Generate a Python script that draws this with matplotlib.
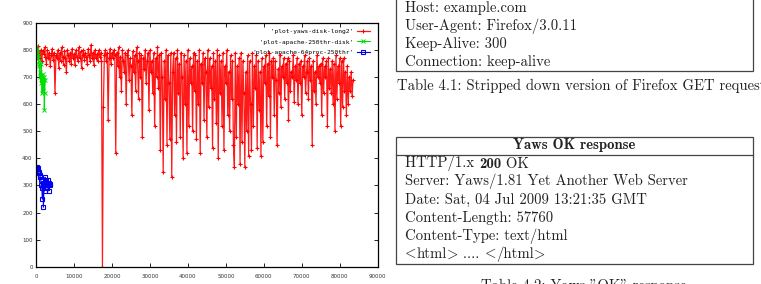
"""
Yaws vs Apache throughput plot with the two HTTP tables next to it
"""

import numpy as np
import matplotlib.pyplot as plt
from matplotlib.patches import Rectangle

# requests/sec samples, one sample every *_step requests
red_step = 250
red = [805, 780, 815, 790, 770, 800, 760, 795, 785, 810,
       775, 750, 800, 770, 790, 740, 780, 805, 765, 790,
       640, 780, 770, 800, 735, 790, 760, 810, 775, 745,
       795, 770, 720, 800, 780, 760, 790, 750, 805, 770,
       785, 745, 800, 775, 760, 810, 770, 795, 735, 780,
       800, 765, 790, 775, 750, 805, 780, 760, 820, 770,
       790, 745, 800, 770, 785, 760, 800, 775, 790, 760,
       0,
       590, 780, 800, 760, 790, 540, 770, 805, 750, 790, 770, 800,
       780, 420, 790, 740, 810, 700, 775, 650, 800, 760, 720, 790,
       600, 780, 800, 690, 770, 740, 560, 795, 720, 780, 650, 810,
       760, 620, 790, 700, 780, 480, 770, 730, 800, 680, 760, 790,
       580, 800, 720, 760, 640, 790, 520, 770, 700, 810, 660, 780,
       430, 790, 700, 350, 760, 620, 800, 450, 780, 680, 470, 790,
       330, 720, 790, 560, 770, 460, 800, 640, 750, 480, 790, 700,
       400, 780, 600, 760, 420, 800, 520, 770, 680, 740, 500, 790,
       650, 780, 470, 760, 600, 800, 420, 750, 680, 790, 540, 770,
       720, 480, 800, 590, 770, 660, 740, 440, 790, 620, 760, 530,
       800, 400, 780, 640, 760, 520, 790, 430, 740, 680, 800, 560,
       720, 500, 780, 620, 760, 450, 370, 790, 480, 740, 600, 770,
       380, 790, 460, 760, 640, 370, 720, 500, 780, 410, 760, 600,
       430, 790, 520, 740, 660, 780, 440, 760, 580, 720, 410, 770,
       460, 740, 680, 780, 520, 750, 630, 790, 480, 760, 700, 770,
       560, 760, 690, 450, 730, 640, 780, 590, 740, 700, 770, 620,
       750, 680, 770, 540, 760, 650, 720, 700, 780, 610, 740, 690,
       770, 600, 750, 680, 760, 560, 740, 700, 780, 640, 720, 760,
       620, 770, 690, 740, 450, 760, 650, 720, 600, 780, 700, 740,
       680, 750, 560, 770, 640, 740, 700, 760, 520, 770, 660, 730,
       640, 760, 600, 750, 500, 780, 620, 740, 680, 770, 520, 760,
       590, 770, 650, 720, 560, 740, 600, 700, 650, 720, 630, 690]

green_step = 115
green = [810, 800, 790, 805, 770, 780, 760, 750, 740, 700, 720,
         680, 750, 700, 640, 710, 690, 650, 700, 580, 640, 690]

blue_step = 140
blue = [365, 370, 360, 365, 355, 350, 345, 340, 330, 320,
        300, 290, 250, 310, 220, 300, 280, 330, 320, 310,
        300, 290, 320, 300, 280, 310, 305, 300]

series_labels = ["'plot-yaws-disk-long2'",
                 "'plot-apache-250thr-disk'",
                 "'plot-apache-64proc-250thr'"]
xticks = list(range(0, 90001, 10000))
yticks = list(range(0, 901, 100))

get_lines = ["Host: example.com",
             "User-Agent: Firefox/3.0.11",
             "Keep-Alive: 300",
             "Connection: keep-alive"]
get_caption = "Table 4.1: Stripped down version of Firefox GET request"

ok_header = "Yaws OK response"
# (text, font) pieces per line: cmb10 = bold, cmmi10 holds the < > glyphs
ok_lines = [[("HTTP/1.x ", 'cmr10'), ("200", 'cmb10'), (" OK", 'cmr10')],
            [("Server: Yaws/1.81 Yet Another Web Server", 'cmr10')],
            [("Date: Sat, 04 Jul 2009 13:21:35 GMT", 'cmr10')],
            [("Content-Length: 57760", 'cmr10')],
            [("Content-Type: text/html", 'cmr10')],
            [("<", 'cmmi10'), ("html", 'cmr10'), (">", 'cmmi10'),
             (" .... ", 'cmr10'), ("<", 'cmmi10'), ("/html", 'cmr10'),
             (">", 'cmmi10')]]
ok_caption = 'Table 4.2: Yaws "OK" response'

W, H = 761, 284
fig = plt.figure(figsize=(W / 100, H / 100), dpi=100)
fig.patch.set_facecolor('white')

# gnuplot chart on the left
ax = fig.add_axes([36 / W, (H - 266.7) / H, 341.7 / W, 243.7 / H])
ax.plot(np.arange(len(red)) * red_step, red, color='#ff1a1a', lw=0.9,
        marker='+', ms=3.5, mew=0.8, mec='#ff0000', label=series_labels[0])
ax.plot(np.arange(len(green)) * green_step, green, color='#00dd00', lw=0.8,
        marker='x', ms=2.2, mew=0.7, mec='#00dd00', label=series_labels[1])
ax.plot(np.arange(len(blue)) * blue_step, blue, color='#0000ee', lw=0.8,
        marker='s', ms=2.4, mew=0.8, mec='#0000ee', mfc='none',
        label=series_labels[2])

ax.set_xlim(0, 90000)
ax.set_ylim(0, 900)
ax.set_xticks(xticks)
ax.set_yticks(yticks)
ax.tick_params(direction='in', length=3, width=0.6, top=True, right=True,
               labelsize=4, labelcolor='#333333')
ax.tick_params(axis='x', pad=5)
ax.tick_params(axis='y', pad=2.4)
for sp in ax.spines.values():
    sp.set_linewidth(0.9)

# gnuplot key: right aligned labels, sample after the text
width = max(len(s) for s in series_labels)
handles, labs = ax.get_legend_handles_labels()
ax.legend(handles, [s.rjust(width) for s in labs], loc='upper right',
          bbox_to_anchor=((370 - 36) / 341.7, 1 - 5.5 / 243.7),
          frameon=False, markerfirst=False, borderpad=0, borderaxespad=0,
          handlelength=2.1, handletextpad=0.6, labelspacing=0.85,
          prop={'family': 'DejaVu Sans Mono', 'size': 4.5})

# document page on the right, drawn in pixel coordinates
doc = fig.add_axes([0, 0, 1, 1])
doc.set_xlim(0, W)
doc.set_ylim(H, 0)
doc.axis('off')

ink = '#222222'
fsize = 10.6
txt = dict(family='cmr10', size=fsize, color=ink, va='baseline')
box = dict(fill=False, lw=0.9, edgecolor='#444444')


def rich_line(x, y, pieces):
    s, fam = pieces[0]
    t = doc.text(x, y, s, **{**txt, 'family': fam})
    prev = t
    for s, fam in pieces[1:]:
        # place each piece right after the previous one, same baseline
        prev = doc.annotate(s, xy=(1, 0), xycoords=prev, va='bottom',
                            family=fam, size=fsize, color=ink)
    return t


doc.add_patch(Rectangle((396, -10), 357, 81, **box))
for i, line in enumerate(get_lines):
    doc.text(405, 12 + i * 18, line, **txt)
doc.text(397, 90, get_caption, **txt)

doc.add_patch(Rectangle((396, 137), 357, 127, **box))
doc.plot([396, 753], [155, 155], color='#444444', lw=0.9)
doc.text(574.5, 149, ok_header, ha='center', **{**txt, 'family': 'cmb10'})
for i, pieces in enumerate(ok_lines):
    rich_line(405, 167 + i * 18.3, pieces)
doc.text(584, 290, ok_caption, ha='center', **txt)

fig.savefig('out.png', dpi=100)
